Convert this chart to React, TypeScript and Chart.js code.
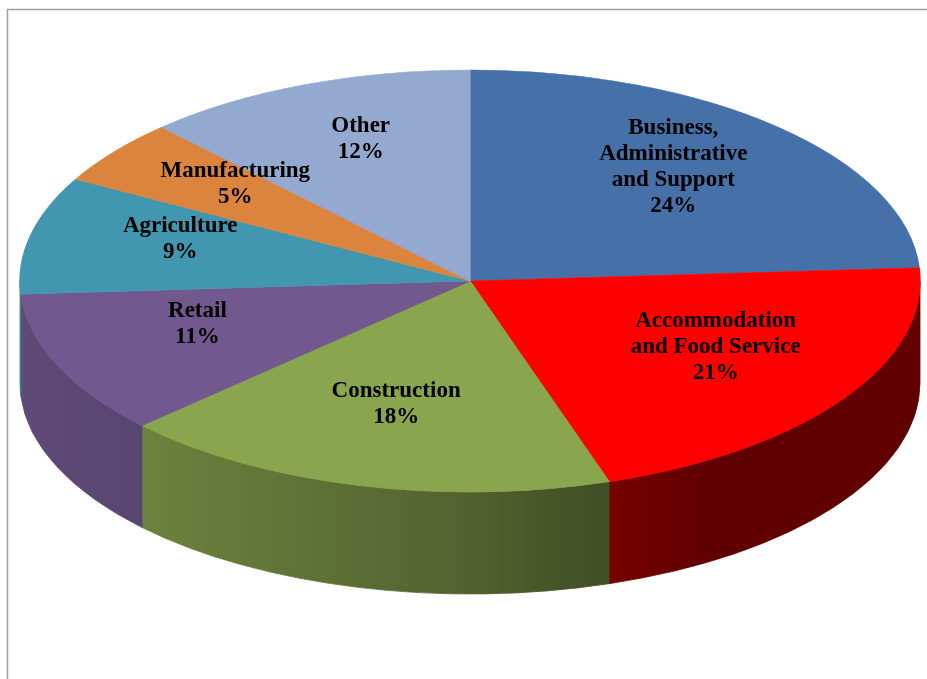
import { useEffect, useRef } from "react";
import { Chart, registerables } from "chart.js";

Chart.register(...registerables);

// ---- data ----
const categories = [
  "Business, Administrative and Support",
  "Accommodation and Food Service",
  "Construction",
  "Retail",
  "Agriculture",
  "Manufacturing",
  "Other",
];
const labelLines = [
  ["Business,", "Administrative", "and Support"],
  ["Accommodation", "and Food Service"],
  ["Construction"],
  ["Retail"],
  ["Agriculture"],
  ["Manufacturing"],
  ["Other"],
];
const shares = [24, 21, 18, 11, 9, 5, 12];
const colors = ["#4571A8", "#FF0000", "#89A54E", "#71588F", "#4197AF", "#DB843D", "#93A9CF"];

// ---- geometry / style ----
const CX = 470;
const CY = 281;
const RX = 450;
const RY = 211;
const DEPTH = 102;
const LABEL_F = 0.66;
const LABEL_DY = -12;
const FONT = "bold 23px 'Liberation Serif', 'Times New Roman', serif";
const LINE_H = 26;
const SHADE_STOPS: [number, number][] = [
  [20, 0.84],
  [120, 0.8],
  [460, 0.6],
  [620, 0.46],
  [700, 0.38],
  [927, 0.38],
];

function shade(hex: string, f: number) {
  const n = parseInt(hex.slice(1), 16);
  const r = Math.round(((n >> 16) & 255) * f);
  const g = Math.round(((n >> 8) & 255) * f);
  const b = Math.round((n & 255) * f);
  return `rgb(${r},${g},${b})`;
}

const pie3d = {
  id: "pie3d",
  beforeDatasetsDraw(chart: any) {
    const ctx: CanvasRenderingContext2D = chart.ctx;
    const meta = chart.getDatasetMeta(0);
    // side walls (front half only)
    meta.data.forEach((el: any, i: number) => {
      const { startAngle, endAngle } = el.getProps(["startAngle", "endAngle"], true);
      const a = Math.max(startAngle, 0);
      const b = Math.min(endAngle, Math.PI);
      if (b <= a) return;
      const grad = ctx.createLinearGradient(CX - RX, 0, CX + RX, 0);
      SHADE_STOPS.forEach(([sx, f]) => {
        const p = Math.min(1, Math.max(0, (sx - (CX - RX)) / (2 * RX)));
        grad.addColorStop(p, shade(colors[i], f));
      });
      ctx.save();
      ctx.beginPath();
      ctx.ellipse(CX, CY, RX, RY, 0, a, b, false);
      ctx.lineTo(CX + RX * Math.cos(b), CY + DEPTH + RY * Math.sin(b));
      ctx.ellipse(CX, CY + DEPTH, RX, RY, 0, b, a, true);
      ctx.closePath();
      ctx.fillStyle = grad;
      ctx.fill();
      ctx.strokeStyle = grad;
      ctx.lineWidth = 0.8;
      ctx.stroke();
      ctx.restore();
    });
    // squash the top face into an ellipse
    const first = meta.data[0];
    const { x, y, outerRadius } = first.getProps(["x", "y", "outerRadius"], true);
    ctx.save();
    ctx.translate(CX, CY);
    ctx.scale(RX / outerRadius, RY / outerRadius);
    ctx.translate(-x, -y);
  },
  afterDatasetsDraw(chart: any) {
    chart.ctx.restore();
  },
  afterDraw(chart: any) {
    const ctx: CanvasRenderingContext2D = chart.ctx;
    const meta = chart.getDatasetMeta(0);
    ctx.save();
    ctx.font = FONT;
    ctx.fillStyle = "#000";
    ctx.textAlign = "center";
    ctx.textBaseline = "middle";
    meta.data.forEach((el: any, i: number) => {
      const { startAngle, endAngle } = el.getProps(["startAngle", "endAngle"], true);
      const mid = (startAngle + endAngle) / 2;
      const px = CX + RX * LABEL_F * Math.cos(mid);
      const py = CY + RY * LABEL_F * Math.sin(mid) + LABEL_DY;
      const lines = [...labelLines[i], `${chart.data.datasets[0].data[i]}%`];
      const top = py - ((lines.length - 1) * LINE_H) / 2;
      lines.forEach((t, k) => ctx.fillText(t, px, top + k * LINE_H));
    });
    // frame
    ctx.strokeStyle = "#a0a0a0";
    ctx.lineWidth = 1.5;
    ctx.beginPath();
    ctx.moveTo(7.5, 679);
    ctx.lineTo(7.5, 9.5);
    ctx.lineTo(927, 9.5);
    ctx.stroke();
    ctx.restore();
  },
};

export default function App() {
  const ref = useRef<HTMLCanvasElement>(null);
  useEffect(() => {
    if (!ref.current) return;
    const chart = new Chart(ref.current, {
      type: "pie",
      data: {
        labels: categories,
        datasets: [
          {
            data: shares,
            backgroundColor: colors,
            borderColor: colors,
            borderWidth: 1,
            clip: false as any,
          },
        ],
      },
      options: {
        animation: false,
        responsive: true,
        maintainAspectRatio: false,
        events: [],
        layout: { padding: 0 },
        plugins: {
          legend: { display: false },
          tooltip: { enabled: false },
        },
      },
      plugins: [pie3d],
    });
    return () => chart.destroy();
  }, []);
  return (
    <div style={{ position: "fixed", left: 0, top: 0, width: 927, height: 679, background: "#fff" }}>
      <canvas ref={ref} style={{ display: "block" }} />
    </div>
  );
}
